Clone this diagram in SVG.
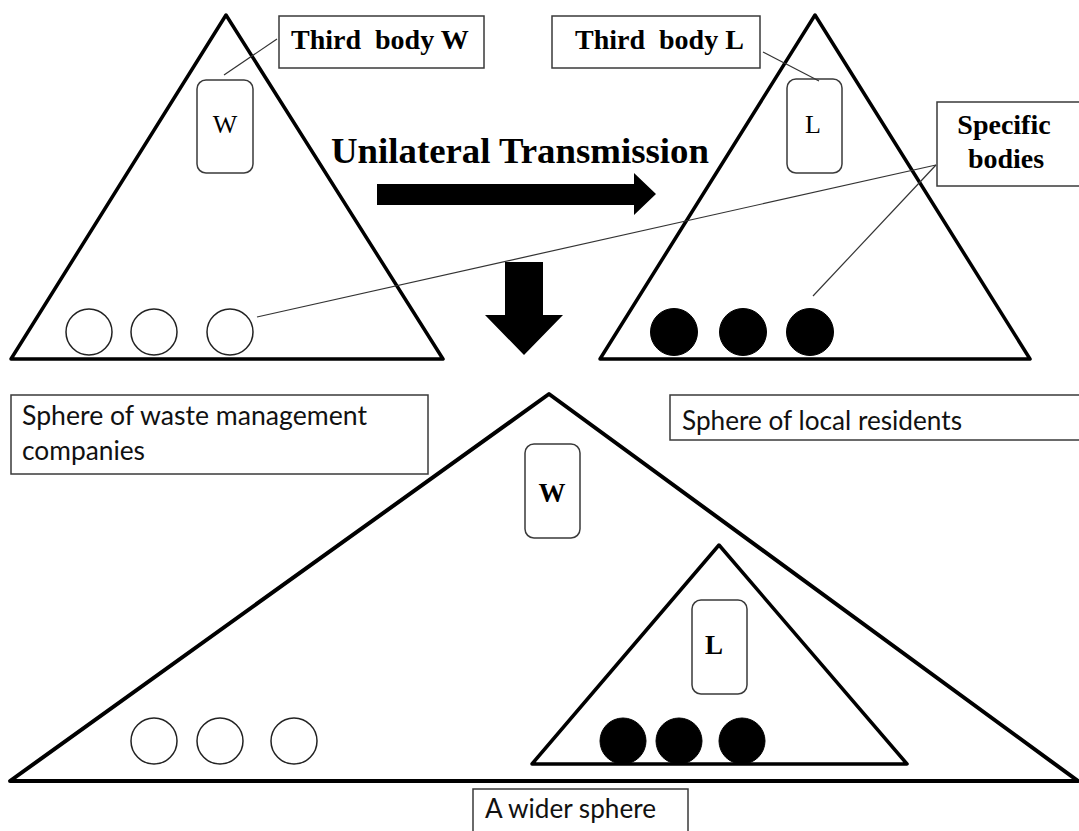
<svg xmlns="http://www.w3.org/2000/svg" width="1079" height="831" viewBox="0 0 1079 831">
<style>
.tri{fill:none;stroke:#000;stroke-width:3.5;stroke-linejoin:round}
.box{fill:#fff;stroke:#3a3a3a;stroke-width:1.5}
.rbox{fill:#fff;stroke:#3a3a3a;stroke-width:1.5}
.ec{fill:#fff;stroke:#222;stroke-width:1.5}
.fc{fill:#000;stroke:#000;stroke-width:1}
.lead{fill:none;stroke:#333;stroke-width:1.2}
.ser{font-family:"Liberation Serif","Times New Roman",serif;fill:#000}
.b{font-weight:bold}
.sans{font-family:Lato,"Open Sans","Liberation Sans",sans-serif;font-size:27px;fill:#111}
.pre{white-space:pre}
</style>
<rect width="1079" height="831" fill="#fff"/>

<g id="sphere-waste-top">
  <polygon class="tri" points="11,359 226,15 443,359"/>
  <rect class="rbox" x="197" y="80" width="56" height="93" rx="9"/>
  <text class="ser" x="225" y="133" font-size="26" text-anchor="middle">W</text>
  <circle class="ec" cx="89" cy="332" r="23"/>
  <circle class="ec" cx="154" cy="332" r="23"/>
  <circle class="ec" cx="230" cy="332" r="23"/>
</g>

<g id="sphere-local-top">
  <polygon class="tri" points="600,359 815,15 1030,359"/>
  <rect class="rbox" x="787" y="79" width="55" height="94" rx="9"/>
  <text class="ser" x="813" y="133" font-size="26" text-anchor="middle">L</text>
  <circle class="fc" cx="674" cy="332" r="23.5"/>
  <circle class="fc" cx="743" cy="332" r="23.5"/>
  <circle class="fc" cx="810" cy="332" r="23.5"/>
</g>

<g id="label-third-w">
  <rect class="box" x="279" y="16" width="205" height="52"/>
  <text class="ser b pre" x="291" y="49" font-size="28">Third  body W</text>
</g>

<g id="label-third-l">
  <rect class="box" x="552" y="16" width="208" height="52"/>
  <text class="ser b pre" x="575" y="49" font-size="28">Third  body L</text>
</g>

<g id="label-specific">
  <rect class="box" x="937" y="102" width="150" height="84"/>
  <text class="ser b" x="1004" y="134" font-size="28" text-anchor="middle">Specific</text>
  <text class="ser b" x="1006" y="168" font-size="28" text-anchor="middle">bodies</text>
</g>

<g id="label-unilateral">
  <text class="ser b" x="331" y="163" font-size="36.8">Unilateral Transmission</text>
</g>

<g id="label-sphere-waste">
  <rect class="box" x="11" y="395" width="417" height="79"/>
  <text class="sans" x="22" y="425" textLength="345" lengthAdjust="spacingAndGlyphs">Sphere of waste management</text>
  <text class="sans" x="22" y="460" textLength="123" lengthAdjust="spacingAndGlyphs">companies</text>
</g>

<g id="label-sphere-local">
  <rect class="box" x="670" y="395" width="420" height="45"/>
  <text class="sans" x="682" y="430" textLength="280" lengthAdjust="spacingAndGlyphs">Sphere of local residents</text>
</g>

<g id="wider-sphere">
  <polygon class="tri" points="10,781 549,394 1078,781" style="stroke-width:4"/>
  <rect class="rbox" x="525" y="444" width="55" height="94" rx="9"/>
  <text class="ser b" x="552" y="502" font-size="27" text-anchor="middle">W</text>
  <circle class="ec" cx="154" cy="741" r="23"/>
  <circle class="ec" cx="220" cy="741" r="23"/>
  <circle class="ec" cx="294" cy="741" r="23"/>
</g>

<g id="inner-local">
  <polygon class="tri" points="532,764 719,545 907,764"/>
  <rect class="rbox" x="692" y="600" width="55" height="94" rx="9"/>
  <text class="ser b" x="714" y="654" font-size="27" text-anchor="middle">L</text>
  <circle class="fc" cx="623" cy="741" r="23"/>
  <circle class="fc" cx="679" cy="741" r="23"/>
  <circle class="fc" cx="742" cy="741" r="23"/>
</g>

<g id="label-wider">
  <rect class="box" x="473" y="789" width="215" height="60"/>
  <text class="sans" x="485" y="818" textLength="171" lengthAdjust="spacingAndGlyphs">A wider sphere</text>
</g>

<g id="connectors">
  <line class="lead" x1="277" y1="39" x2="224" y2="75"/>
  <line class="lead" x1="763" y1="52" x2="819" y2="81"/>
  <line class="lead" x1="936" y1="165" x2="257" y2="317"/>
  <line class="lead" x1="936" y1="165" x2="813" y2="296"/>
  <polygon fill="#000" points="377,184 634,184 634,173 656,194 634,215 634,205 377,205"/>
  <polygon fill="#000" points="505,262 543,262 543,315 563,315 524,355 485,315 505,315"/>
</g>
</svg>
